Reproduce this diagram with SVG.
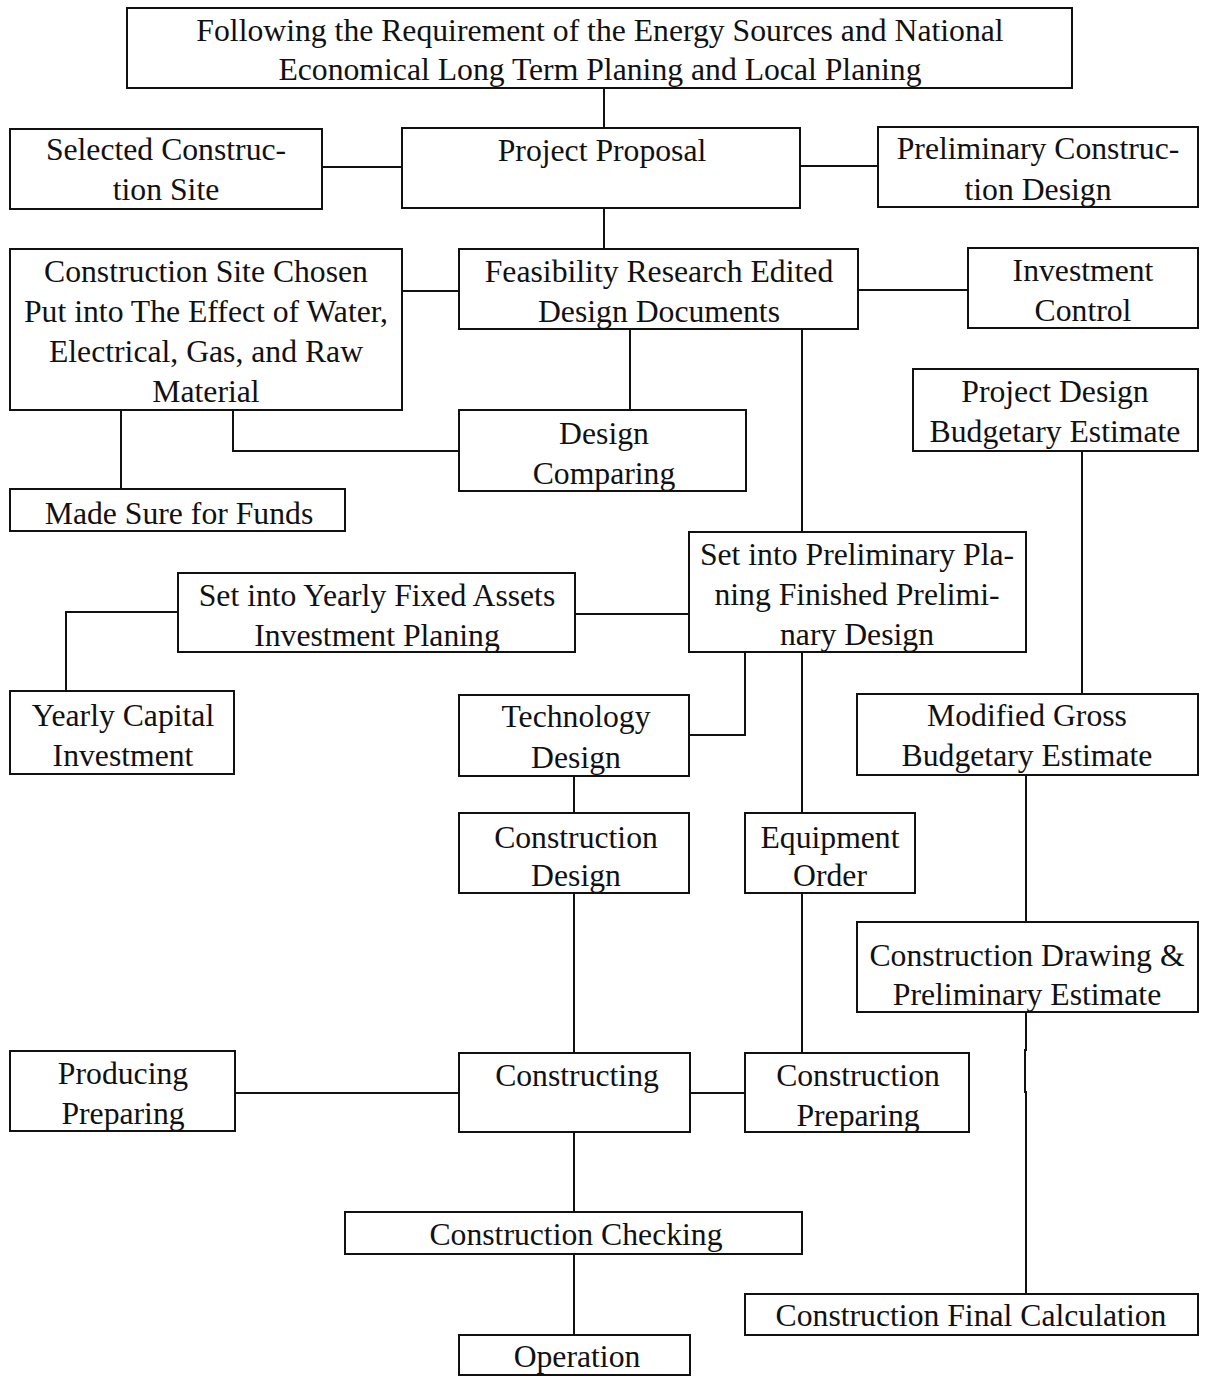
<svg xmlns="http://www.w3.org/2000/svg" width="1206" height="1376" viewBox="0 0 1206 1376">
<style>
rect{fill:#fff;stroke:#111;stroke-width:2}
text{font-family:'Liberation Serif','DejaVu Serif',serif;font-size:31.7px;fill:#111;text-anchor:middle}
#connectors path{fill:none;stroke:#111;stroke-width:2}
</style>
<rect x="0" y="0" width="1206" height="1376" style="stroke:none"/>
<g id="connectors">
<path d="M604 88V128"/>
<path d="M322 167H402"/>
<path d="M800 166H878"/>
<path d="M604 208V249"/>
<path d="M402 291H459"/>
<path d="M858 290H968"/>
<path d="M630 329V410"/>
<path d="M233 410V451H459"/>
<path d="M121 410V489"/>
<path d="M802 329V532"/>
<path d="M1082 451V694"/>
<path d="M575 614H689"/>
<path d="M178 612H66V691"/>
<path d="M745 652V735H689"/>
<path d="M802 652V813"/>
<path d="M1026 775V922"/>
<path d="M574 776V813"/>
<path d="M574 893V1053"/>
<path d="M802 893V1053"/>
<path d="M1026 1012V1050H1025V1092H1026V1294"/>
<path d="M235 1093H459"/>
<path d="M690 1093H745"/>
<path d="M574 1132V1212"/>
<path d="M574 1254V1335"/>
</g>
<g font-family="Liberation Serif, DejaVu Serif, serif">
<g id="n-top"><rect x="127" y="8" width="945" height="80"/><text x="600" y="41">Following the Requirement of the Energy Sources and National</text><text x="600" y="80">Economical Long Term Planing and Local Planing</text></g>
<g id="n-proposal"><rect x="402" y="128" width="398" height="80"/><text x="602" y="161">Project Proposal</text></g>
<g id="n-selected"><rect x="10" y="129" width="312" height="80"/><text x="166" y="160">Selected Construc-</text><text x="166" y="200">tion Site</text></g>
<g id="n-prelim-cd"><rect x="878" y="127" width="320" height="80"/><text x="1038" y="159">Preliminary Construc-</text><text x="1038" y="200">tion Design</text></g>
<g id="n-site-chosen"><rect x="10" y="249" width="392" height="161"/><text x="206" y="282">Construction Site Chosen</text><text x="206" y="322">Put into The Effect of Water,</text><text x="206" y="362">Electrical, Gas, and Raw</text><text x="206" y="402">Material</text></g>
<g id="n-feasibility"><rect x="459" y="249" width="399" height="80"/><text x="659" y="282">Feasibility Research Edited</text><text x="659" y="322">Design Documents</text></g>
<g id="n-invest-control"><rect x="968" y="248" width="230" height="80"/><text x="1083" y="281">Investment</text><text x="1083" y="321">Control</text></g>
<g id="n-project-budget"><rect x="913" y="369" width="285" height="82"/><text x="1055" y="402">Project Design</text><text x="1055" y="442">Budgetary Estimate</text></g>
<g id="n-design-comparing"><rect x="459" y="410" width="287" height="81"/><text x="604" y="444">Design</text><text x="604" y="484">Comparing</text></g>
<g id="n-funds"><rect x="10" y="489" width="335" height="42"/><text x="179" y="524">Made Sure for Funds</text></g>
<g id="n-set-prelim"><rect x="689" y="532" width="337" height="120"/><text x="857" y="565">Set into Preliminary Pla-</text><text x="857" y="605">ning Finished Prelimi-</text><text x="857" y="645">nary Design</text></g>
<g id="n-yearly-fixed"><rect x="178" y="573" width="397" height="79"/><text x="377" y="606">Set into Yearly Fixed Assets</text><text x="377" y="646">Investment Planing</text></g>
<g id="n-yearly-capital"><rect x="10" y="691" width="224" height="83"/><text x="123" y="726">Yearly Capital</text><text x="123" y="766">Investment</text></g>
<g id="n-technology"><rect x="459" y="695" width="230" height="81"/><text x="576" y="727">Technology</text><text x="576" y="768">Design</text></g>
<g id="n-modified"><rect x="857" y="694" width="341" height="81"/><text x="1027" y="726">Modified Gross</text><text x="1027" y="766">Budgetary Estimate</text></g>
<g id="n-constr-design"><rect x="459" y="813" width="230" height="80"/><text x="576" y="848">Construction</text><text x="576" y="886">Design</text></g>
<g id="n-equipment"><rect x="745" y="813" width="170" height="80"/><text x="830" y="848">Equipment</text><text x="830" y="886">Order</text></g>
<g id="n-drawing"><rect x="857" y="922" width="341" height="90"/><text x="1027" y="966">Construction Drawing &amp;</text><text x="1027" y="1005">Preliminary Estimate</text></g>
<g id="n-producing"><rect x="10" y="1051" width="225" height="80"/><text x="123" y="1084">Producing</text><text x="123" y="1124">Preparing</text></g>
<g id="n-constructing"><rect x="459" y="1053" width="231" height="79"/><text x="577" y="1086">Constructing</text></g>
<g id="n-constr-preparing"><rect x="745" y="1053" width="224" height="79"/><text x="858" y="1086">Construction</text><text x="858" y="1126">Preparing</text></g>
<g id="n-checking"><rect x="345" y="1212" width="457" height="42"/><text x="576" y="1245">Construction Checking</text></g>
<g id="n-final"><rect x="745" y="1294" width="453" height="41"/><text x="971" y="1326">Construction Final Calculation</text></g>
<g id="n-operation"><rect x="459" y="1335" width="231" height="40"/><text x="577" y="1367">Operation</text></g>
</g>
</svg>
